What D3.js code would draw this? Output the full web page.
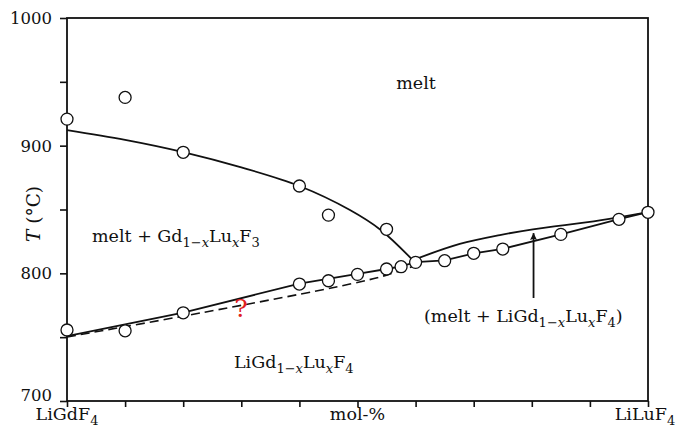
<!DOCTYPE html>
<html><head><meta charset="utf-8">
<script src="https://cdn.jsdelivr.net/npm/d3@7"></script>
<style>
html,body{margin:0;padding:0;background:#fff;}
svg{display:block;}
</style></head>
<body>
<svg id="chart" width="679" height="429"></svg>
<script>
// ---- data (x: mol-% LuF4, y: temperature in °C) ----
const xTicks = [0,10,20,30,40,50,60,70,80,90,100];
const yTicks = [700,750,800,850,900,950,1000];
const yTickLabels = {700:"700",800:"800",900:"900",1000:"1000"};
const measuredX = [0,10,20,40,45,55, 0,10,20,40,45,50,55,57.5,60,65,70,75,85,95,100];
const measuredT = [920.8,937.8,894.8,868.4,845.6,834.5, 755.6,755,769.1,791.6,794.2,799.2,803.4,805.2,808.6,809.9,815.7,819,830.5,842.3,847.8];
const liquidusGdX = [0,10,20,30,40,48.7,54,59.5];
const liquidusGdT = [912.2,904.6,895,883,868.4,849.6,834,810.4];
const liquidusLuX = [59.8,67.6,74.5,80.2,91.7,100];
const liquidusLuT = [810.8,823,830,834.5,841.5,848];
const solidusX = [0,20,40,50,55,57.5,60,65,70,75,85,95,100];
const solidusT = [750.9,769.3,791.9,799.5,803.4,805.4,808.8,810.1,815.6,819.2,830.6,842.4,848];
const dashedX = [0,22.9,48.7,55,60];
const dashedT = [750.2,768.9,791.6,798.6,806.2];
const arrowX = [80.3,80.3];
const arrowT = [780.7,831.5];

const svg=d3.select("#chart");
const x=d3.scaleLinear().domain([0,100]).range([67,648]);
const y=d3.scaleLinear().domain([700,1000]).range([401,18]);
const INK="#111";
const FF="DejaVu Serif";
const TFS=16.5, FS=17.5, SUB=13, SHIFT=4.5;

const defs=svg.append("defs");
defs.append("marker").attr("id","ah").attr("viewBox","0 0 10 10").attr("refX",10).attr("refY",5)
  .attr("markerWidth",9).attr("markerHeight",7).attr("markerUnits","userSpaceOnUse").attr("orient","auto")
  .append("path").attr("d","M0,0 L10,5 L0,10 L2,5 Z").attr("fill",INK);

// frame
svg.append("rect").attr("x",x(0)).attr("y",y(1000)).attr("width",x(100)-x(0)).attr("height",y(700)-y(1000))
  .attr("fill","none").attr("stroke",INK).attr("stroke-width",1.8);

// axes
const xAxis=d3.axisBottom(x).tickValues(xTicks).tickSize(6).tickFormat("");
const gx=svg.append("g").attr("transform",`translate(0,${y(700)})`).call(xAxis);
gx.select(".domain").remove();
gx.selectAll(".tick line").attr("stroke",INK).attr("stroke-width",1.6);
const yAxis=d3.axisLeft(y).tickValues(yTicks).tickSize(7).tickFormat("");
const gy=svg.append("g").attr("transform",`translate(${x(0)},0)`).call(yAxis);
gy.select(".domain").remove();
gy.selectAll(".tick line").attr("stroke",INK).attr("stroke-width",1.6);

function txt(px,py,anchor,size){
  return svg.append("text").attr("x",px).attr("y",py).attr("text-anchor",anchor||"start")
    .attr("font-size",size||FS).attr("font-family",FF).attr("fill",INK);
}

// y tick labels
yTicks.filter(v=>yTickLabels[v]).forEach(v=>{
  txt(52,v===700?y(v):y(v)+6,"end",TFS).text(yTickLabels[v]);
});

// rich text helper
function rich(px,py,parts,anchor,size){
  const t=txt(px,py,anchor,size);
  let shifted=0;
  parts.forEach(p=>{
    const ts=t.append("tspan").text(p.t);
    if(p.it) ts.attr("font-style","italic");
    const want=p.sub?SHIFT:0;
    if(want!==shifted){ts.attr("dy",want-shifted);shifted=want;}
    if(p.sub) ts.attr("font-size",SUB);
  });
  return t;
}

// x labels
rich(x(0),420,[{t:"LiGdF"},{t:"4",sub:1}],"middle");
txt(x(50),420,"middle",FS).text("mol-%");
rich(x(100)-3,420,[{t:"LiLuF"},{t:"4",sub:1}],"middle");

// y label
const yl=svg.append("text").attr("transform","translate(40,214) rotate(-90)").attr("text-anchor","middle")
  .attr("font-size",18.5).attr("font-family",FF).attr("fill",INK);
yl.append("tspan").attr("font-style","italic").text("T");
yl.append("tspan").text(" (°C)");

// curves
const zip=(a,b)=>a.map((v,i)=>[v,b[i]]);
const smooth=d3.line().x(d=>x(d[0])).y(d=>y(d[1])).curve(d3.curveCatmullRom);
const lin=d3.line().x(d=>x(d[0])).y(d=>y(d[1]));
svg.append("path").attr("d",smooth(zip(liquidusGdX,liquidusGdT))).attr("fill","none").attr("stroke",INK).attr("stroke-width",1.8);
svg.append("path").attr("d",smooth(zip(liquidusLuX,liquidusLuT))).attr("fill","none").attr("stroke",INK).attr("stroke-width",1.8);
svg.append("path").attr("d",lin(zip(solidusX,solidusT))).attr("fill","none").attr("stroke",INK).attr("stroke-width",1.8);
svg.append("path").attr("d",smooth(zip(dashedX,dashedT))).attr("fill","none").attr("stroke",INK).attr("stroke-width",1.6).attr("stroke-dasharray","9,5");

// arrow
svg.append("path").attr("d",lin(zip(arrowX,arrowT))).attr("stroke",INK).attr("stroke-width",1.8).attr("fill","none").attr("marker-end","url(#ah)");

// points
svg.append("g").selectAll("circle").data(zip(measuredX,measuredT)).join("circle")
  .attr("cx",d=>x(d[0])).attr("cy",d=>y(d[1])).attr("r",6)
  .attr("fill","#fff").attr("stroke",INK).attr("stroke-width",1.3);

// region labels
txt(416,89,"middle",FS).text("melt");
rich(92,242,[{t:"melt + Gd"},{t:"1−",sub:1},{t:"x",sub:1,it:1},{t:"Lu"},{t:"x",sub:1,it:1},{t:"F"},{t:"3",sub:1}],"start");
rich(234,368,[{t:"LiGd"},{t:"1−",sub:1},{t:"x",sub:1,it:1},{t:"Lu"},{t:"x",sub:1,it:1},{t:"F"},{t:"4",sub:1}],"start");
rich(424,322,[{t:"(melt + LiGd"},{t:"1−",sub:1},{t:"x",sub:1,it:1},{t:"Lu"},{t:"x",sub:1,it:1},{t:"F"},{t:"4",sub:1},{t:")"}],"start");
txt(241,317,"middle",25).attr("fill","#e0201e").text("?");
</script>
</body></html>
